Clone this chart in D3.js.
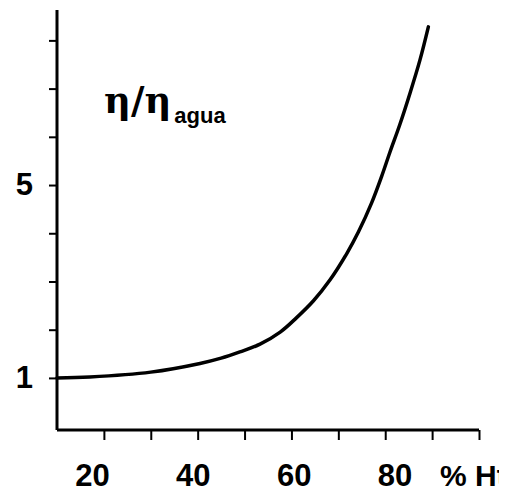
<!DOCTYPE html>
<html>
<head>
<meta charset="utf-8">
<script src="https://cdn.jsdelivr.net/npm/d3@7"></script>
<style>
  html, body { margin: 0; padding: 0; background: #fff; }
  svg { display: block; }
</style>
</head>
<body>
<div id="chart"></div>
<script>
// Relative viscosity vs hematocrit
const hematocrit = [10, 17, 30, 40.5, 45, 49, 53.3, 57.6, 61, 64.7, 68.2, 71.8, 74.3, 77.1, 79.2, 81, 83.1, 85.3, 87.4, 89.2];
const viscosity = [1.00, 1.02, 1.12, 1.30, 1.41, 1.54, 1.70, 1.95, 2.24, 2.60, 3.03, 3.58, 4.03, 4.63, 5.17, 5.68, 6.25, 6.91, 7.59, 8.28];

const xTicks = [20, 30, 40, 50, 60, 70, 80, 90, 100];
const xLabels = [20, 40, 60, 80];
const yTicks = [1, 2, 3, 4, 5, 6, 7, 8];
const yLabels = [1, 5];

const width = 515, height = 493;

const svg = d3.select("#chart")
    .append("svg")
    .attr("width", width)
    .attr("height", height);

const x = d3.scaleLinear().domain([10, 100]).range([57, 479]);
const y = d3.scaleLinear().domain([-0.08, 8.63]).range([430, 10]);
// the printed numbers sit a bit off the tick marks in the original
const xLabelPos = d3.scaleLinear().domain([20, 80]).range([92.5, 395]);

const sans = "'Liberation Sans', Arial, Helvetica, sans-serif";

// y axis
const yAxis = svg.append("g")
    .attr("transform", `translate(${x(10)},0)`)
    .call(d3.axisLeft(y)
        .tickValues(yTicks)
        .tickSize(8)
        .tickPadding(16)
        .tickFormat(d => yLabels.includes(d) ? d : ""));

// x axis
const xAxis = svg.append("g")
    .attr("transform", `translate(0,${y(-0.08)})`)
    .call(d3.axisBottom(x)
        .tickValues(xTicks)
        .tickSize(10)
        .tickFormat(""));

[yAxis, xAxis].forEach(g => {
    g.select(".domain")
        .attr("stroke", "#000")
        .attr("stroke-width", 3)
        .attr("d", g === yAxis ? `M0,${y(8.63)}V${y(-0.08)}` : `M${x(10)},0H${x(100)}`);
    g.selectAll(".tick line").attr("stroke", "#000").attr("stroke-width", 2);
});

yAxis.selectAll(".tick text")
    .attr("fill", "#000")
    .style("font-family", sans)
    .style("font-weight", "bold")
    .style("font-size", "31px");

svg.append("g")
    .selectAll("text")
    .data(xLabels)
    .enter()
    .append("text")
    .attr("x", d => xLabelPos(d))
    .attr("y", 486)
    .attr("text-anchor", "middle")
    .style("font-family", sans)
    .style("font-weight", "bold")
    .style("font-size", "31px")
    .text(d => d);

// axis title, cut off at the right edge like the scan
svg.append("clipPath").attr("id", "cut")
    .append("rect").attr("x", 0).attr("y", 0).attr("width", 499).attr("height", height);

svg.append("text")
    .attr("clip-path", "url(#cut)")
    .attr("x", 440)
    .attr("y", 486)
    .style("font-family", sans)
    .style("font-weight", "bold")
    .style("font-size", "30px")
    .text("% Hto");

// curve
const line = d3.line()
    .x((d, i) => x(hematocrit[i]))
    .y(d => y(d))
    .curve(d3.curveCatmullRom.alpha(0.5));

svg.append("path")
    .datum(viscosity)
    .attr("fill", "none")
    .attr("stroke", "#000")
    .attr("stroke-width", 3.5)
    .attr("stroke-linecap", "round")
    .attr("d", line);

// label eta / eta_agua
const lbl = svg.append("text")
    .attr("x", 104)
    .attr("y", 113)
    .attr("fill", "#000");

lbl.append("tspan")
    .style("font-family", "'DejaVu Serif', serif")
    .style("font-weight", "bold")
    .style("font-size", "37px")
    .text("η/η");

lbl.append("tspan")
    .attr("dx", 3)
    .attr("dy", 10)
    .style("font-family", sans)
    .style("font-weight", "bold")
    .style("font-size", "22px")
    .text("agua");
</script>
</body>
</html>
